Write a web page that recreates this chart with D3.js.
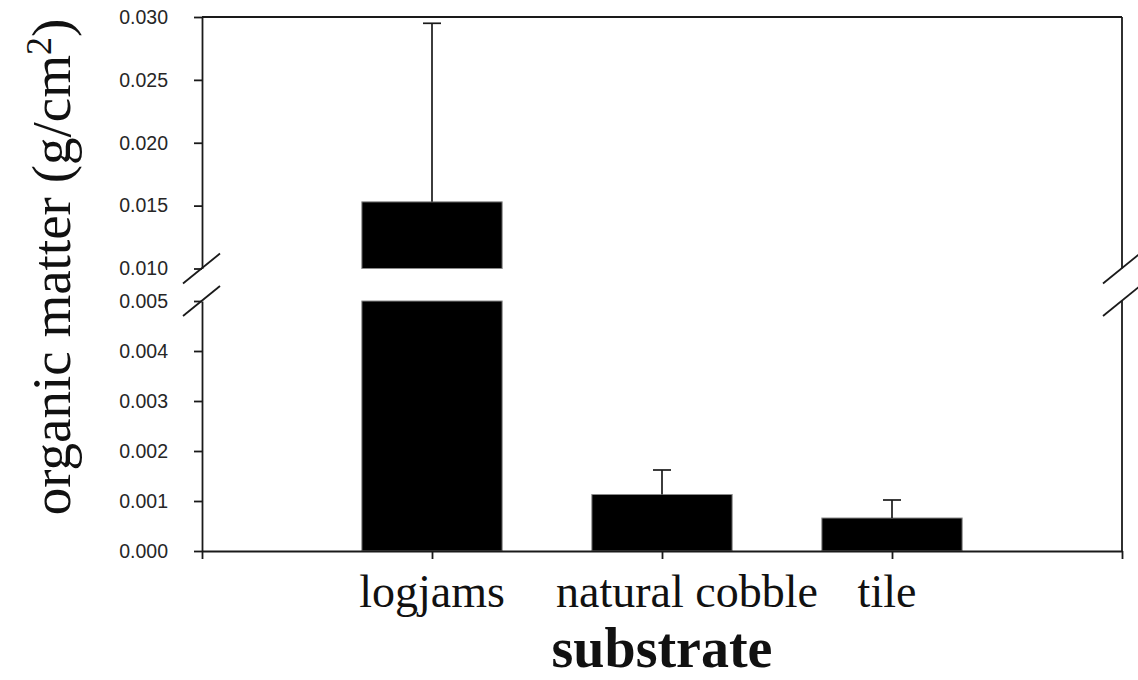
<!DOCTYPE html>
<html>
<head>
<meta charset="utf-8">
<script src="https://cdn.jsdelivr.net/npm/d3@7"></script>
<style>
  html, body { margin: 0; padding: 0; background: #fff; }
  svg { display: block; }
</style>
</head>
<body>
<svg id="chart" width="1138" height="680"></svg>
<script>
// Organic matter per substrate type (mean with upper standard error)
const categories = ["logjams", "natural cobble", "tile"];
const means = [0.0153, 0.00113, 0.00066];
const errors = [0.0142, 0.00049, 0.00036];

// Broken y axis: two value ranges with their own tick labels
const lowerTicks = [0.000, 0.001, 0.002, 0.003, 0.004, 0.005];
const upperTicks = [0.010, 0.015, 0.020, 0.025, 0.030];
const lowerDomain = [0, 0.005];
const upperDomain = [0.010, 0.030];

(function () {
  const svg = d3.select("#chart");
  const ink = "#1a1a1a";

  const plotLeft = 202, plotRight = 1122;
  const plotTop = 17, breakTop = 268.5, breakBottom = 301, plotBottom = 551;

  const x = d3.scaleLinear().domain([0, 4]).range([plotLeft, plotRight]);
  const yLow = d3.scaleLinear().domain(lowerDomain).range([plotBottom, breakBottom]);
  const yHigh = d3.scaleLinear().domain(upperDomain).range([breakTop, plotTop]);
  const barW = x(0.61) - x(0);

  // pick the segment that shows a value
  const yOf = v => v >= upperDomain[0] ? yHigh(v) : yLow(Math.min(v, lowerDomain[1]));

  // bars (split across the break when the value exceeds the lower range)
  const bars = svg.append("g");
  means.forEach((m, i) => {
    const cx = x(i + 1);
    const segs = [[0, Math.min(m, lowerDomain[1]), yLow]];
    if (m > upperDomain[0]) segs.push([upperDomain[0], m, yHigh]);
    segs.forEach(([a, b, s]) => {
      bars.append("rect")
        .attr("x", cx - barW / 2)
        .attr("y", s(b))
        .attr("width", barW)
        .attr("height", s(a) - s(b))
        .attr("fill", "#000")
        .attr("stroke", "#8a8a8a")
        .attr("stroke-width", 1);
    });
  });

  // upper error bars
  const err = svg.append("g").attr("stroke", ink).attr("stroke-width", 1.7);
  means.forEach((m, i) => {
    const cx = x(i + 1);
    const hi = m + errors[i];
    err.append("line").attr("x1", cx).attr("x2", cx)
      .attr("y1", yOf(m)).attr("y2", yOf(hi));
    err.append("line").attr("x1", cx - 9).attr("x2", cx + 9)
      .attr("y1", yOf(hi)).attr("y2", yOf(hi));
  });

  // frame
  const frame = svg.append("g").attr("stroke", ink).attr("stroke-width", 1.8).attr("fill", "none");
  frame.append("line").attr("x1", plotLeft).attr("x2", plotRight).attr("y1", plotTop).attr("y2", plotTop);
  frame.append("line").attr("x1", plotRight).attr("x2", plotRight).attr("y1", plotTop).attr("y2", breakTop);
  frame.append("line").attr("x1", plotRight).attr("x2", plotRight).attr("y1", breakBottom).attr("y2", plotBottom);

  // y axes (left side, two segments)
  const tickFont = "'Liberation Sans', Arial, sans-serif";
  function styleAxis(g) {
    g.selectAll("path, line").attr("stroke", ink).attr("stroke-width", 1.8);
    g.selectAll("text").attr("font-family", tickFont).attr("font-size", 19.5).attr("fill", "#262626");
  }
  svg.append("g").attr("transform", `translate(${plotLeft},0)`)
    .call(d3.axisLeft(yHigh).tickValues(upperTicks).tickFormat(d3.format(".3f"))
      .tickSize(8).tickSizeOuter(0).tickPadding(26))
    .call(styleAxis);
  svg.append("g").attr("transform", `translate(${plotLeft},0)`)
    .call(d3.axisLeft(yLow).tickValues(lowerTicks).tickFormat(d3.format(".3f"))
      .tickSize(8).tickSizeOuter(0).tickPadding(26))
    .call(styleAxis);

  // x axis
  const xAxis = svg.append("g").attr("transform", `translate(0,${plotBottom})`)
    .call(d3.axisBottom(x).tickValues([0, 1, 2, 3, 4]).tickFormat("").tickSize(8).tickSizeOuter(0));
  xAxis.selectAll("path, line").attr("stroke", ink).attr("stroke-width", 1.8);

  // category labels, nudged sideways as typeset
  const serif = "'Liberation Serif', 'Times New Roman', serif";
  const labelNudge = [0, 25, -5];
  svg.append("g").selectAll("text").data(categories).join("text")
    .attr("x", (d, i) => x(i + 1) + labelNudge[i])
    .attr("y", 607)
    .attr("text-anchor", "middle")
    .attr("font-family", serif)
    .attr("font-size", 46)
    .attr("fill", "#111")
    .text(d => d);

  // axis-break marks
  const breaks = svg.append("g").attr("stroke", ink).attr("stroke-width", 1.8);
  [plotLeft, plotRight].forEach(bx => {
    [breakTop, breakBottom].forEach(by => {
      breaks.append("line")
        .attr("x1", bx - 19).attr("y1", by + 15)
        .attr("x2", bx + 18).attr("y2", by - 15);
    });
  });

  // titles
  svg.append("text")
    .attr("x", 662).attr("y", 667)
    .attr("text-anchor", "middle")
    .attr("font-family", serif)
    .attr("font-weight", "bold")
    .attr("font-size", 56)
    .attr("fill", "#111")
    .text("substrate");

  const yTitle = svg.append("text")
    .attr("transform", "translate(70,267) rotate(-90)")
    .attr("text-anchor", "middle")
    .attr("font-family", serif)
    .attr("font-size", 55)
    .attr("fill", "#111");
  yTitle.append("tspan").text("organic matter (g/cm");
  yTitle.append("tspan").attr("font-size", 36).attr("dy", -19).text("2");
  yTitle.append("tspan").attr("dy", 19).text(")");
})();
</script>
</body>
</html>
